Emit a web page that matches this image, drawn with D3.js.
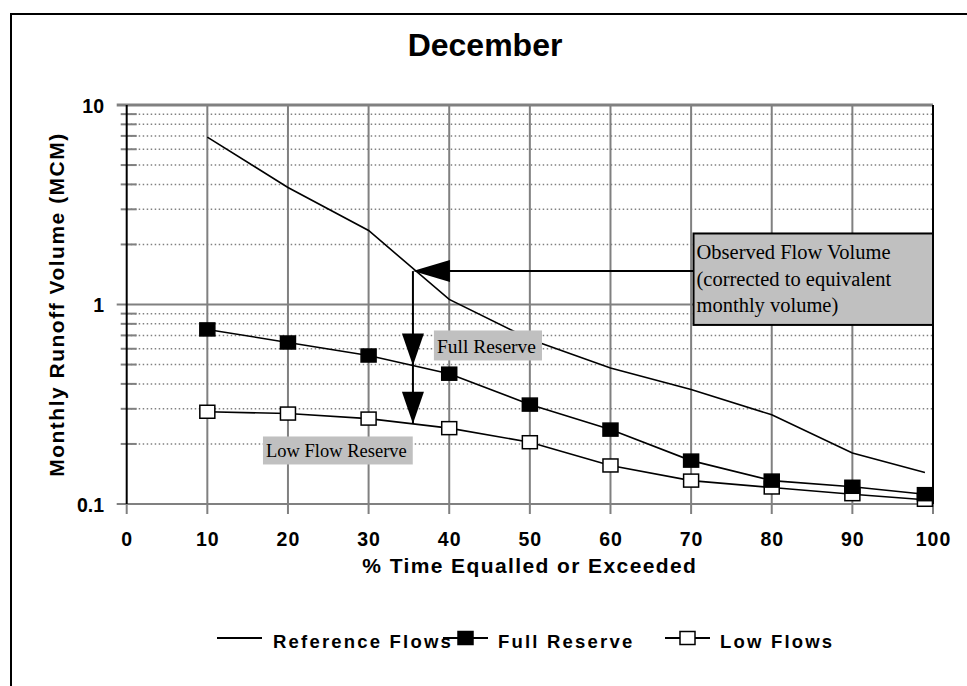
<!DOCTYPE html>
<html>
<head>
<meta charset="utf-8">
<script src="https://cdn.jsdelivr.net/npm/d3@7"></script>
<style>
  body { margin: 0; background: #fff; }
  svg { display: block; }
  .sans { font-family: "Liberation Sans", Arial, sans-serif; font-weight: bold; }
  .serif { font-family: "Liberation Serif", "Times New Roman", serif; }
</style>
</head>
<body>
<svg id="chart" width="967" height="686"></svg>
<script>
/* ── Data ──────────────────────────────────────────────── */
const pctTime        = [10, 20, 30, 40, 50, 60, 70, 80, 90, 99];
const referenceFlows = [6.9, 3.86, 2.35, 1.06, 0.67, 0.48, 0.375, 0.28, 0.18, 0.144];
const fullReserve    = [0.75, 0.645, 0.555, 0.45, 0.315, 0.236, 0.165, 0.131, 0.122, 0.112];
const lowFlows       = [0.29, 0.284, 0.268, 0.24, 0.204, 0.156, 0.131, 0.121, 0.112, 0.105];

const xTickValues = [0, 10, 20, 30, 40, 50, 60, 70, 80, 90, 100];
const yMajorTicks = [0.1, 1, 10];
const legendNames = ['Reference Flows', 'Full Reserve', 'Low Flows'];

// annotation anchors (data units)
const obsPct = 35.5, obsVol = 1.47;

/* ── Setup ─────────────────────────────────────────────── */
const svg = d3.select('#chart');
const GRAY = '#808080';
const L = 126.7, R = 933, T = 105, B = 504;

const x = d3.scaleLinear().domain([0, 100]).range([L, R]);
const y = d3.scaleLog().domain([0.1, 10]).range([B, T]);

// outer chart border (runs off the right and bottom)
svg.append('rect')
  .attr('x', 11).attr('y', 14)
  .attr('width', 1000).attr('height', 720)
  .attr('fill', 'none').attr('stroke', '#000').attr('stroke-width', 2);

// title
svg.append('text').attr('class', 'sans')
  .attr('x', 485).attr('y', 56)
  .attr('text-anchor', 'middle')
  .style('font-size', '32px')
  .text('December');

/* ── Grid ──────────────────────────────────────────────── */
const grid = svg.append('g');
const allY = y.ticks();
const minorY = allY.filter(v => !yMajorTicks.some(m => Math.abs(m - v) < 1e-9));

grid.selectAll('.minor').data(minorY).join('line')
  .attr('x1', L).attr('x2', R)
  .attr('y1', d => y(d)).attr('y2', d => y(d))
  .attr('stroke', GRAY).attr('stroke-width', 1.5)
  .attr('stroke-dasharray', '1.5,2.5');

// vertical grid lines (extend down as tick marks)
grid.selectAll('.vgrid').data(xTickValues).join('line')
  .attr('x1', d => x(d)).attr('x2', d => x(d))
  .attr('y1', d => (d === 0 || d === 100) ? B : T)
  .attr('y2', B + 10)
  .attr('stroke', GRAY).attr('stroke-width', 2);

// major horizontal lines + outside ticks
grid.selectAll('.major').data(yMajorTicks).join('line')
  .attr('x1', L - 10).attr('x2', R)
  .attr('y1', d => y(d)).attr('y2', d => y(d))
  .attr('stroke', GRAY).attr('stroke-width', d => d === 10 ? 3 : 2);

// minor ticks crossing the axis
grid.selectAll('.mtick').data(minorY).join('line')
  .attr('x1', L - 6).attr('x2', L + 10)
  .attr('y1', d => y(d)).attr('y2', d => y(d))
  .attr('stroke', GRAY).attr('stroke-width', 2);

// left axis and right border in black
grid.append('line').attr('x1', L).attr('x2', L).attr('y1', T).attr('y2', B)
  .attr('stroke', '#000').attr('stroke-width', 2);
grid.append('line').attr('x1', R).attr('x2', R).attr('y1', T).attr('y2', B)
  .attr('stroke', '#000').attr('stroke-width', 2);

/* ── Tick labels ───────────────────────────────────────── */
svg.append('g').selectAll('text').data(yMajorTicks).join('text')
  .attr('class', 'sans')
  .attr('x', 104).attr('y', d => y(d) + 7.5)
  .attr('text-anchor', 'end')
  .style('font-size', '19.5px')
  .text(d => d3.format('~g')(d));

svg.append('g').selectAll('text').data(xTickValues).join('text')
  .attr('class', 'sans')
  .attr('x', d => x(d) + 0.5).attr('y', 546)
  .attr('text-anchor', 'middle')
  .style('font-size', '19.5px').style('letter-spacing', '1px')
  .text(d => d);

// axis titles
svg.append('text').attr('class', 'sans')
  .attr('x', (L + R) / 2).attr('y', 573)
  .attr('text-anchor', 'middle')
  .style('font-size', '21px').style('letter-spacing', '1.4px')
  .text('% Time Equalled or Exceeded');

svg.append('text').attr('class', 'sans')
  .attr('transform', `translate(64, ${(T + B) / 2}) rotate(-90)`)
  .attr('text-anchor', 'middle')
  .style('font-size', '21px').style('letter-spacing', '1.5px')
  .text('Monthly Runoff Volume (MCM)');

/* ── Series ────────────────────────────────────────────── */
const line = d3.line().x(d => x(d[0])).y(d => y(d[1]));
const series = [
  { name: legendNames[0], values: referenceFlows, marker: null },
  { name: legendNames[1], values: fullReserve,    marker: 'filled' },
  { name: legendNames[2], values: lowFlows,       marker: 'open' }
];

const MW = 15, MH = 13;
for (const s of series) {
  const pts = pctTime.map((p, i) => [p, s.values[i]]);
  svg.append('path')
    .attr('d', line(pts))
    .attr('fill', 'none').attr('stroke', '#000').attr('stroke-width', 1.6);
}
for (const s of series.slice().reverse()) {
  if (!s.marker) continue;
  const pts = pctTime.map((p, i) => [p, s.values[i]]);
  svg.append('g').selectAll('rect').data(pts).join('rect')
    .attr('x', d => x(d[0]) - MW / 2).attr('y', d => y(d[1]) - MH / 2)
    .attr('width', MW).attr('height', MH)
    .attr('fill', s.marker === 'filled' ? '#000' : '#fff')
    .attr('stroke', '#000').attr('stroke-width', 1.5);
}

/* ── Annotation ────────────────────────────────────────── */
function interpLog(vals, p) {
  for (let i = 0; i < pctTime.length - 1; i++) {
    if (p >= pctTime[i] && p <= pctTime[i + 1]) {
      const t = (p - pctTime[i]) / (pctTime[i + 1] - pctTime[i]);
      return Math.exp(Math.log(vals[i]) * (1 - t) + Math.log(vals[i + 1]) * t);
    }
  }
  return vals[vals.length - 1];
}

const ann = svg.append('g');
const ox = x(obsPct), oy = y(obsVol);
const tipFull = y(interpLog(fullReserve, obsPct));
const tipLow  = y(interpLog(lowFlows, obsPct));
const AL = 34, AW = 11;

// observed flow box
const boxL = x(70.3), boxT = y(2.27), boxB = y(0.79);
ann.append('line').attr('x1', boxL).attr('x2', ox + AL).attr('y1', oy).attr('y2', oy)
  .attr('stroke', '#000').attr('stroke-width', 2);
ann.append('path')
  .attr('d', `M${ox},${oy} L${ox + AL + 3},${oy - AW} L${ox + AL + 3},${oy + AW} Z`)
  .attr('fill', '#000');
ann.append('line').attr('x1', ox).attr('x2', ox).attr('y1', oy).attr('y2', tipLow)
  .attr('stroke', '#000').attr('stroke-width', 2);
for (const tip of [tipFull, tipLow]) {
  ann.append('path')
    .attr('d', `M${ox},${tip} L${ox - AW},${tip - AL + 2} L${ox + AW},${tip - AL + 2} Z`)
    .attr('fill', '#000');
}

ann.append('rect')
  .attr('x', boxL).attr('y', boxT)
  .attr('width', R - boxL).attr('height', boxB - boxT)
  .attr('fill', '#c0c0c0').attr('stroke', '#000').attr('stroke-width', 2);
['Observed Flow Volume', '(corrected to equivalent', 'monthly volume)'].forEach((t, i) => {
  ann.append('text').attr('class', 'serif')
    .attr('x', boxL + 3).attr('y', boxT + 26 + i * 26.5)
    .style('font-size', '20.5px')
    .text(t);
});

// gray labels
function grayLabel(px, vol, txt, size, h) {
  const g = ann.append('g').attr('transform', `translate(${x(px)}, ${y(vol)})`);
  const r = g.append('rect').attr('fill', '#c0c0c0').attr('height', h);
  const t = g.append('text').attr('class', 'serif')
    .attr('x', 3).attr('y', h - 7)
    .style('font-size', size + 'px')
    .text(txt);
  r.attr('width', t.node().getComputedTextLength() + 9);
}
grayLabel(38.1, 0.741, 'Full Reserve', 19.5, 30);
grayLabel(16.9, 0.218, 'Low Flow Reserve', 18.5, 28);

/* ── Legend ────────────────────────────────────────────── */
const legY = 638;
const legX = [217, 443, 665];
const legend = svg.append('g');
series.forEach((s, i) => {
  const g = legend.append('g').attr('transform', `translate(${legX[i]}, ${legY})`);
  g.append('line').attr('x1', 0).attr('x2', 45).attr('y1', 0).attr('y2', 0)
    .attr('stroke', '#000').attr('stroke-width', 2);
  g.append('text').attr('class', 'sans')
    .attr('x', i === 0 ? 56 : 55).attr('y', 9.5)
    .style('font-size', '18.5px').style('letter-spacing', '2.2px')
    .text(s.name);
  if (s.marker) {
    g.append('rect')
      .attr('x', 22.5 - MW / 2).attr('y', -MH / 2)
      .attr('width', MW).attr('height', MH)
      .attr('fill', s.marker === 'filled' ? '#000' : '#fff')
      .attr('stroke', '#000').attr('stroke-width', 1.5);
  }
});
</script>
</body>
</html>
